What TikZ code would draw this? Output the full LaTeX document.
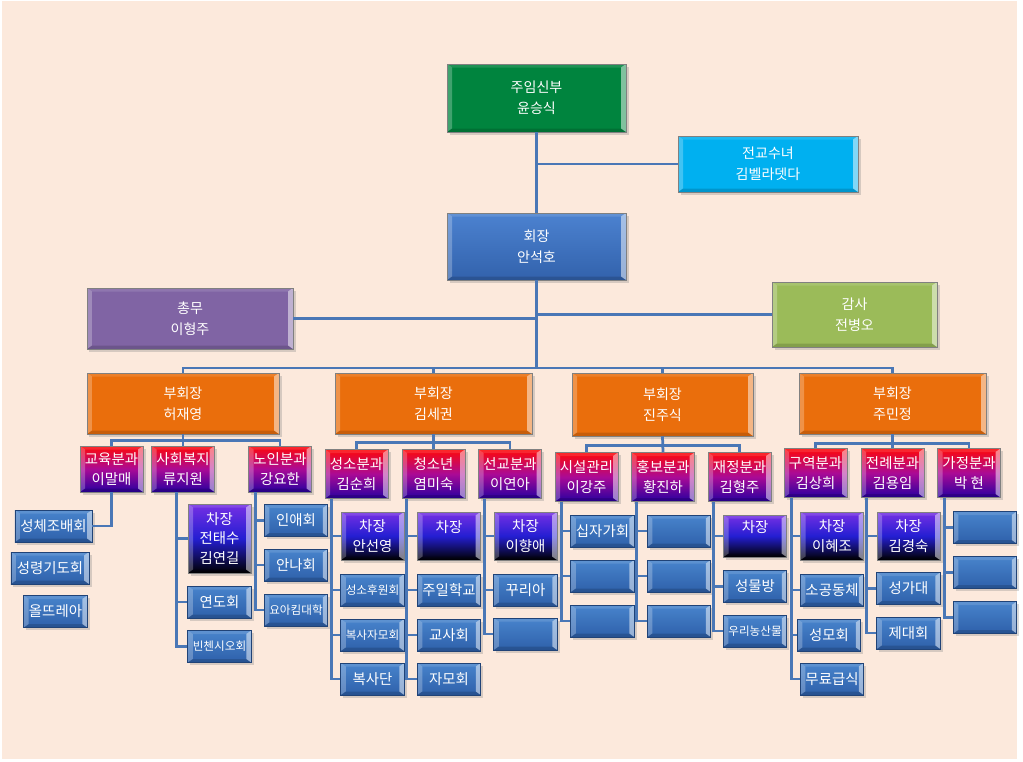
\documentclass[tikz,border=0pt]{standalone}
\usepackage{fontspec}
\newfontfamily\kr{Noto Sans CJK KR}
\usetikzlibrary{shadows}

\definecolor{bgpeach}{RGB}{252,233,220}
\definecolor{linkblue}{RGB}{74,119,182}
\definecolor{pgreen}{RGB}{0,132,62}
\definecolor{pcyan}{RGB}{0,176,240}
\definecolor{chairtop}{RGB}{76,130,208}
\definecolor{chairbot}{RGB}{50,98,172}
\definecolor{ppurple}{RGB}{128,100,164}
\definecolor{polive}{RGB}{155,187,89}
\definecolor{porange}{RGB}{234,110,12}
\definecolor{deptred}{RGB}{255,8,8}
\definecolor{deptmid}{RGB}{170,10,150}
\definecolor{deptblue}{RGB}{40,0,160}
\definecolor{chieftop}{RGB}{118,48,228}
\definecolor{chiefmid}{RGB}{36,30,210}
\definecolor{unittop}{RGB}{72,132,204}
\definecolor{unitbot}{RGB}{46,96,170}

\tikzset{
  link/.style={draw=linkblue, line width=0.55mm},
  bevel/.style={path picture={
    \fill[white,opacity=.25] (path picture bounding box.north west) -- ++(1mm,-.7mm)
      -- ([xshift=1mm,yshift=.7mm]path picture bounding box.south west)
      -- (path picture bounding box.south west) -- cycle;
    \fill[white,opacity=.5] (path picture bounding box.north east) -- ++(-1mm,-.7mm)
      -- ([xshift=-1mm,yshift=.7mm]path picture bounding box.south east)
      -- (path picture bounding box.south east) -- cycle;
    \fill[white,opacity=.12] (path picture bounding box.north west) -- ++(1mm,-.7mm)
      -- ([xshift=-1mm,yshift=-.7mm]path picture bounding box.north east)
      -- (path picture bounding box.north east) -- cycle;
    \fill[black,opacity=.15] (path picture bounding box.south west) -- ++(1mm,.7mm)
      -- ([xshift=-1mm,yshift=.7mm]path picture bounding box.south east)
      -- (path picture bounding box.south east) -- cycle;
  }},
  box/.style={draw=black!50, line width=.3pt, text=white, align=center, inner sep=1pt,
    drop shadow={shadow xshift=.5mm, shadow yshift=-.5mm, opacity=.3}, bevel},
  post/.style={box, fill=#1, minimum width=35.8mm, minimum height=13.6mm,
    font=\kr\fontsize{8}{12}\selectfont},
  dept/.style={box, top color=deptred, bottom color=deptblue, middle color=deptmid,
    minimum width=12.6mm, minimum height=9.8mm, font=\kr\fontsize{8.2}{11.3}\selectfont},
  chief/.style={box, top color=chieftop, bottom color=black, middle color=chiefmid,
    minimum width=12.6mm, minimum height=9.6mm, font=\kr\fontsize{8.2}{11.3}\selectfont},
  unit/.style={box, top color=unittop, bottom color=unitbot, draw=unitbot!70!black,
    minimum width=12.7mm, minimum height=6.4mm, font=\kr\fontsize{8.2}{10}\selectfont},
  smallunit/.style={unit, font=\kr\fontsize{6.6}{8}\selectfont}
}

\begin{document}
\begin{tikzpicture}[x=0.2mm,y=-0.2mm]
\useasboundingbox (0,0) rectangle (1023,761);
\fill[bgpeach] (2,1) rectangle (1017,759);

% top of the chart
\node[post=pgreen] (priest) at (536.5,98) {주임신부\\윤승식};
\node[post=pcyan, minimum width=36mm, minimum height=11.2mm] (nun) at (768,164) {전교수녀\\김벨라뎃다};
\node[post=chairbot, top color=chairtop, bottom color=chairbot, minimum height=13.4mm] (chair) at (536.5,246.5) {회장\\안석호};
\node[post=ppurple, minimum width=41.2mm, minimum height=12.2mm] (sec) at (190,318.5) {총무\\이형주};
\node[post=polive, minimum width=33mm, minimum height=13mm] (aud) at (854.5,314.5) {감사\\전병오};

% vice presidents
\node[post=porange, minimum width=38.4mm, minimum height=12.2mm] (vp1) at (183,403.5) {부회장\\허재영};
\node[post=porange, minimum width=39.4mm, minimum height=12.2mm] (vp2) at (433.5,403.5) {부회장\\김세권};
\node[post=porange, minimum width=36.2mm, minimum height=12.6mm] (vp3) at (662.5,404.5) {부회장\\진주식};
\node[post=porange, minimum width=37.4mm, minimum height=12.2mm] (vp4) at (892.5,403.5) {부회장\\주민정};

\coordinate (vpbus) at (536.5,368);
\draw[link] (priest.south) -- (chair.north);
\draw[link] (priest.south |- nun.west) -- (nun.west);
\draw[link] (chair.south) -- (vpbus);
\draw[link] (chair.south |- sec.east) -- (sec.east);
\draw[link] (chair.south |- aud.west) -- (aud.west);
\draw[link] (vp1.north) |- (vpbus) -| (vp4.north);
\draw[link] (vp2.north) -- (vp2.north |- vpbus);
\draw[link] (vp3.north) -- (vp3.north |- vpbus);

% departments
\node[dept, minimum height=9.2mm] (d11) at (111.5,469) {교육분과\\이말매};
\node[dept, minimum height=9.2mm] (d12) at (183,469) {사회복지\\류지원};
\node[dept, minimum height=9.2mm] (d13) at (280,469) {노인분과\\강요한};
\node[dept] (d21) at (356.5,474) {성소분과\\김순희};
\node[dept] (d22) at (433.5,474) {청소년\\염미숙};
\node[dept] (d23) at (510,474) {선교분과\\이연아};
\node[dept] (d31) at (586.5,477) {시설관리\\이강주};
\node[dept] (d32) at (663,477) {홍보분과\\황진하};
\node[dept] (d33) at (739.5,477) {재정분과\\김형주};
\node[dept] (d41) at (815.5,473) {구역분과\\김상희};
\node[dept] (d42) at (892.5,473) {전례분과\\김용임};
\node[dept] (d43) at (969,473) {가정분과\\박 현};

\draw[link] (vp1.south) -- (d12.north);
\draw[link] (d11.north) -- ++(0,-5) -| (d13.north);
\draw[link] (vp2.south) -- (d22.north);
\draw[link] (d21.north) -- ++(0,-7) -| (d23.north);
\draw[link] (vp3.south) -- (d32.north);
\draw[link] (d31.north) -- ++(0,-7) -| (d33.north);
\draw[link] (vp4.south) -- (d42.north);
\draw[link] (d41.north) -- ++(0,-5) -| (d43.north);

% groups under the first vice president
\node[unit, minimum width=15.4mm] (c111) at (53.5,526) {성체조배회};
\node[unit, minimum width=15.6mm] (c112) at (50,568) {성령기도회};
\node[unit] (c113) at (55.5,611.5) {올뜨레아};
\node[chief, minimum height=13.8mm] (c121) at (219.5,538.5) {차장\\전태수\\김연길};
\node[unit] (c122) at (219.5,602) {연도회};
\node[smallunit] (c123) at (219.5,646.5) {빈첸시오회};
\node[unit] (c131) at (296,520.5) {인애회};
\node[unit] (c132) at (296,565) {안나회};
\node[smallunit] (c133) at (296,610) {요아킴대학};

\coordinate (s12) at ([xshift=5.1mm]d12.south west);
\coordinate (s13) at ([xshift=1.4mm]d13.south west);
\draw[link] (d11.south) |- (c111.east);
\draw[link] (s12) |- (c121.west) (s12) |- (c122.west) (s12) |- (c123.west);
\draw[link] (s13) |- (c131.west) (s13) |- (c132.west) (s13) |- (c133.west);

% groups under the second vice president
\node[chief] (c211) at (372.5,536) {차장\\안선영};
\node[smallunit] (c212) at (372.5,590) {성소후원회};
\node[smallunit] (c213) at (372.5,635) {복사자모회};
\node[unit] (c214) at (372.5,679) {복사단};
\node[chief] (c221) at (449,536) {차장\\~};
\node[unit] (c222) at (449,590) {주일학교};
\node[unit] (c223) at (449,635) {교사회};
\node[unit] (c224) at (449,679) {자모회};
\node[chief] (c231) at (525.5,536) {차장\\이향애};
\node[unit] (c232) at (525.5,590) {꾸리아};
\node[unit] (c233) at (525.5,634) {};

\coordinate (s21) at ([xshift=1.4mm]d21.south west);
\coordinate (s22) at ([xshift=1mm]d22.south west);
\coordinate (s23) at ([xshift=1.2mm]d23.south west);
\draw[link] (s21) |- (c211.west) (s21) |- (c212.west) (s21) |- (c213.west) (s21) |- (c214.west);
\draw[link] (s22) |- (c221.west) (s22) |- (c222.west) (s22) |- (c223.west) (s22) |- (c224.west);
\draw[link] (s23) |- (c231.west) (s23) |- (c232.west) (s23) |- (c233.west);

% groups under the third vice president
\node[unit] (c311) at (602.5,531) {십자가회};
\node[unit] (c312) at (602.5,576) {};
\node[unit] (c313) at (602.5,621) {};
\node[unit] (c321) at (679,531) {};
\node[unit] (c322) at (679,576) {};
\node[unit] (c323) at (679,621) {};
\node[chief, minimum height=8.4mm] (c331) at (755,536) {차장\\~};
\node[unit] (c332) at (755,586.5) {성물방};
\node[smallunit] (c333) at (755,631) {우리농산물};

\coordinate (s31) at ([xshift=1.4mm]d31.south west);
\coordinate (s32) at ([xshift=1mm]d32.south west);
\coordinate (s33) at ([xshift=1.2mm]d33.south west);
\draw[link] (s31) |- (c311.west) (s31) |- (c312.west) (s31) |- (c313.west);
\draw[link] (s32) |- (c321.west) (s32) |- (c322.west) (s32) |- (c323.west);
\draw[link] (s33) |- (c331.west) (s33) |- (c332.west) (s33) |- (c333.west);

% groups under the fourth vice president
\node[chief] (c411) at (832,536) {차장\\이혜조};
\node[unit] (c412) at (832,590) {소공동체};
\node[unit] (c413) at (829,635) {성모회};
\node[unit] (c414) at (832,679) {무료급식};
\node[chief] (c421) at (908.5,536) {차장\\김경숙};
\node[unit] (c422) at (908.5,588.5) {성가대};
\node[unit] (c423) at (908.5,633) {제대회};
\node[unit] (c431) at (985,527.5) {};
\node[unit] (c432) at (985,572.5) {};
\node[unit] (c433) at (985,617.5) {};

\coordinate (s41) at ([xshift=1.6mm]d41.south west);
\coordinate (s42) at ([xshift=1.2mm]d42.south west);
\coordinate (s43) at ([xshift=1.4mm]d43.south west);
\draw[link] (s41) |- (c411.west) (s41) |- (c412.west) (s41) |- (c413.west) (s41) |- (c414.west);
\draw[link] (s42) |- (c421.west) (s42) |- (c422.west) (s42) |- (c423.west);
\draw[link] (s43) |- (c431.west) (s43) |- (c432.west) (s43) |- (c433.west);

\end{tikzpicture}
\end{document}
